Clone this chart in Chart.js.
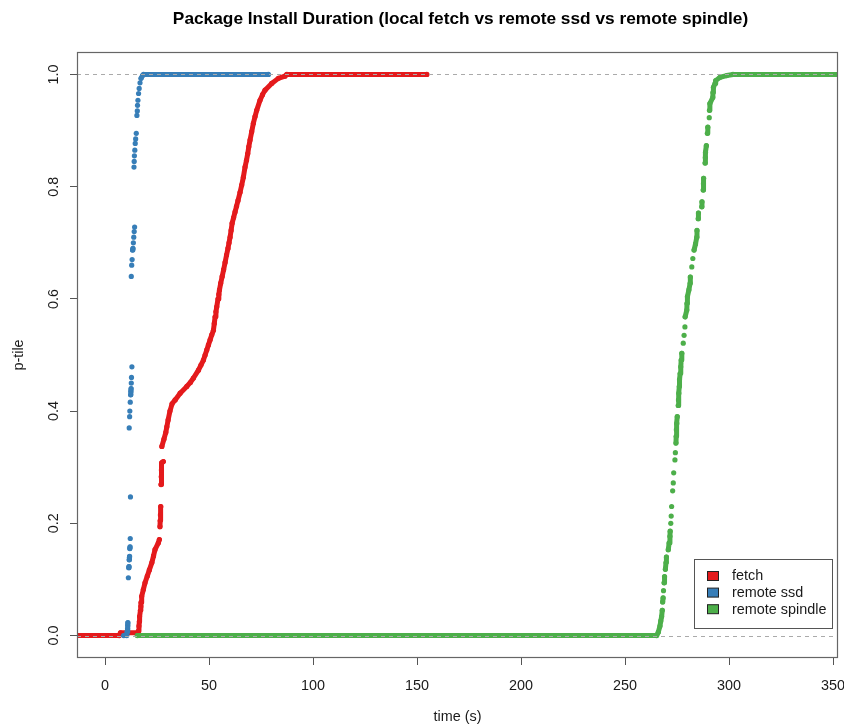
<!DOCTYPE html>
<html>
<head>
<meta charset="utf-8">
<script src="https://cdn.jsdelivr.net/npm/chart.js@4.4.1/dist/chart.umd.min.js"></script>
<style>
  html, body { margin: 0; padding: 0; background: #fff; }
  #wrap { width: 844px; height: 727px; }
</style>
</head>
<body>
<div id="wrap"><canvas id="cv"></canvas></div>
<script>
// ---- data ----
var chartTitle = 'Package Install Duration (local fetch vs remote ssd vs remote spindle)';
var xTitle = 'time (s)';
var yTitle = 'p-tile';
var xTicks = [0, 50, 100, 150, 200, 250, 300, 350];
var yTicks = [0, 0.2, 0.4, 0.6, 0.8, 1.0];
var refLines = [0, 1];
var seriesNames = ['fetch', 'remote ssd', 'remote spindle'];

var fetchTime = [-13.6, 6.8, 7.4, 15.8, 16.0, 16.3, 16.5, 16.6, 17.0, 17.2, 17.3, 17.6, 18.4, 19.2,
  20.3, 21.3, 22.5, 23.3, 24.0, 25.6, 26.1, 26.4, 26.5, 26.6, 26.8, 26.9, 27.0, 27.1, 27.3, 28.0,
  27.3, 28.3, 29.2, 29.7, 30.3, 31.2, 32.2, 33.7, 36.1, 39.3, 41.0, 42.5, 44.9, 46.1, 47.3, 48.1,
  48.9, 49.7, 50.5, 51.3, 52.1, 52.5, 52.9, 53.3, 53.7, 54.3, 54.7, 55.0, 55.6, 56.3, 57.0, 57.7,
  58.4, 59.1, 59.6, 60.1, 60.6, 61.1, 61.8, 62.5, 63.2, 63.9, 64.9, 65.7, 66.5, 67.3, 68.0, 68.6,
  69.1, 69.7, 70.5, 71.3, 72.1, 72.9, 74.5, 75.7, 76.9, 80.1, 83.3, 86.5, 87.4, 154.7];
var fetchPtile = [0, 0, 0.005, 0.005, 0.008, 0.017, 0.025, 0.034, 0.045, 0.052, 0.059, 0.07, 0.082, 0.094,
  0.106, 0.117, 0.13, 0.142, 0.153, 0.165, 0.171, 0.194, 0.205, 0.215, 0.23, 0.269, 0.283, 0.295, 0.308, 0.31,
  0.337, 0.35, 0.362, 0.372, 0.384, 0.40, 0.413, 0.42, 0.432, 0.444, 0.451, 0.459, 0.473, 0.482, 0.491, 0.50,
  0.509, 0.518, 0.527, 0.536, 0.544, 0.556, 0.568, 0.577, 0.586, 0.60, 0.608, 0.616, 0.628, 0.64, 0.652, 0.665,
  0.678, 0.69, 0.70, 0.71, 0.722, 0.735, 0.745, 0.755, 0.765, 0.775, 0.79, 0.803, 0.817, 0.835, 0.847, 0.859,
  0.871, 0.883, 0.898, 0.913, 0.925, 0.936, 0.954, 0.964, 0.972, 0.984, 0.993, 0.997, 1.0, 1.0];

var ssdTime = [9.0, 10.4, 10.6, 10.8, 10.9, 11.0, 11.2, 11.4, 11.5, 11.6, 11.7, 11.8, 11.9, 12.0, 12.1,
  12.2, 11.6, 11.8, 11.9, 12.1, 12.3, 12.4, 12.5, 12.6, 12.7, 12.9, 12.6, 12.8, 13.0, 13.2, 13.4, 13.6,
  13.8, 14.0, 14.2, 13.9, 14.0, 14.1, 14.3, 14.5, 14.7, 15.0, 15.3, 15.5, 15.6, 15.8, 16.1, 16.4, 16.8,
  17.3, 18.0, 18.5, 78.5];
var ssdPtile = [0, 0, 0.007, 0.012, 0.018, 0.023, 0.103, 0.121, 0.123, 0.135, 0.139, 0.141, 0.155, 0.158, 0.173,
  0.247, 0.37, 0.39, 0.40, 0.416, 0.429, 0.435, 0.44, 0.45, 0.46, 0.479, 0.64, 0.66, 0.67, 0.687, 0.69, 0.70,
  0.71, 0.72, 0.728, 0.835, 0.845, 0.855, 0.865, 0.877, 0.885, 0.895, 0.927, 0.935, 0.945, 0.954, 0.966, 0.975, 0.985,
  0.993, 0.998, 1.0, 1.0];

var spindleTime = [15.5, 265.2, 266.0, 266.8, 267.2, 267.6, 267.9, 268.1, 268.3, 268.5, 268.8, 269.0,
  269.4, 269.7, 269.9, 270.8, 271.2, 271.6, 271.7, 272.0, 272.2, 272.4, 272.9, 273.2, 273.4, 274.0,
  274.2, 274.5, 274.6, 274.7, 274.9, 275.1, 275.6, 275.7, 275.9, 276.1, 276.2, 276.5, 276.8, 277.0,
  277.3, 278.0, 278.4, 278.8, 278.9, 279.7, 279.8, 280.0, 280.7, 281.3, 281.4, 282.1, 282.6, 283.2,
  283.9, 284.5, 284.6, 285.2, 285.3, 286.9, 287.0, 287.6, 287.7, 287.8, 288.5, 288.6, 288.7, 289.1,
  289.6, 289.8, 290.5, 290.6, 290.8, 292.2, 292.3, 292.5, 293.3, 293.6, 295.7, 298.9, 301.9, 353.6];
var spindlePtile = [0, 0, 0.006, 0.017, 0.026, 0.034, 0.045, 0.06, 0.067, 0.080, 0.094, 0.105,
  0.118, 0.13, 0.14, 0.153, 0.165, 0.177, 0.186, 0.2, 0.213, 0.23, 0.258, 0.272, 0.29, 0.313,
  0.326, 0.343, 0.355, 0.367, 0.378, 0.39, 0.41, 0.42, 0.432, 0.444, 0.456, 0.467, 0.479, 0.491,
  0.503, 0.521, 0.535, 0.55, 0.568, 0.58, 0.592, 0.604, 0.616, 0.628, 0.639, 0.657, 0.672, 0.687,
  0.698, 0.71, 0.722, 0.743, 0.753, 0.764, 0.773, 0.794, 0.805, 0.815, 0.842, 0.852, 0.861, 0.873,
  0.895, 0.906, 0.923, 0.936, 0.948, 0.959, 0.968, 0.977, 0.984, 0.989, 0.995, 0.998, 1.0, 1.0];

// ---- styling ----
var RED = '#E41A1C', BLUE = '#377EB8', GREEN = '#4DAF4A';
var FONT = '"Liberation Sans", Arial, Helvetica, sans-serif';
Chart.defaults.font.family = FONT;
Chart.defaults.color = '#1a1a1a';

function toPoints(xs, ys) {
  return xs.map(function (t, i) { return { x: t, y: ys[i] }; });
}

// only join neighbouring points when they sit close together (dense runs) or on a flat run
function gapSegment(color, maxGap) {
  return function (ctx) {
    var dx = ctx.p1.x - ctx.p0.x, dy = ctx.p1.y - ctx.p0.y;
    if (Math.abs(dy) < 1.5) return color;
    return Math.sqrt(dx * dx + dy * dy) <= maxGap ? color : 'rgba(0,0,0,0)';
  };
}

function series(label, xs, ys, color, maxGap, order) {
  return {
    label: label,
    data: toPoints(xs, ys),
    showLine: true,
    borderColor: color,
    backgroundColor: color,
    borderWidth: 5,
    borderCapStyle: 'round',
    borderJoinStyle: 'round',
    pointRadius: 2.6,
    pointBorderWidth: 0,
    pointHoverRadius: 0,
    tension: 0,
    clip: 0,
    order: order,
    segment: { borderColor: gapSegment(color, maxGap) }
  };
}

var decorations = {
  id: 'decorations',
  afterDatasetsDraw: function (chart) {
    var ctx = chart.ctx, a = chart.chartArea, ys = chart.scales.y;
    ctx.save();
    ctx.strokeStyle = '#aaaaaa';
    ctx.lineWidth = 1;
    ctx.setLineDash([4, 4]);
    refLines.forEach(function (v) {
      var py = Math.round(ys.getPixelForValue(v)) + 0.5;
      ctx.beginPath();
      ctx.moveTo(a.left, py);
      ctx.lineTo(a.right, py);
      ctx.stroke();
    });
    ctx.setLineDash([]);
    ctx.strokeStyle = '#666666';
    ctx.lineWidth = 1.2;
    ctx.strokeRect(Math.round(a.left) + 0.5, Math.round(a.top) + 0.5,
      Math.round(a.right - a.left) - 1, Math.round(a.bottom - a.top) - 1);
    ctx.restore();
  },
  afterDraw: function (chart) {
    var ctx = chart.ctx, a = chart.chartArea;
    ctx.save();
    // main title, centred over the plot region
    ctx.fillStyle = '#000';
    ctx.font = 'bold 17.3px ' + FONT;
    ctx.textAlign = 'center';
    ctx.textBaseline = 'middle';
    ctx.fillText(chartTitle, (a.left + a.right) / 2 + 3, 19);

    // legend box in the bottom-right corner
    var colors = [RED, BLUE, GREEN];
    var bw = 138, bh = 69;
    var bx = Math.round(a.right) - 6 - bw, by = Math.round(a.bottom) - 30 - bh;
    ctx.fillStyle = '#fff';
    ctx.fillRect(bx, by, bw, bh);
    ctx.strokeStyle = '#555';
    ctx.lineWidth = 1;
    ctx.strokeRect(bx + 0.5, by + 0.5, bw, bh);
    ctx.font = '14.4px ' + FONT;
    ctx.textAlign = 'left';
    ctx.textBaseline = 'middle';
    seriesNames.forEach(function (name, i) {
      var cy = by + 17 + i * 16.6;
      ctx.fillStyle = colors[i];
      ctx.fillRect(bx + 13.5, cy - 4.5, 11, 9);
      ctx.strokeStyle = '#222';
      ctx.strokeRect(bx + 13.5, cy - 4.5, 11, 9);
      ctx.fillStyle = '#1a1a1a';
      ctx.fillText(name, bx + 38, cy + 0.5);
    });
    ctx.restore();
  }
};

var ctx = document.getElementById('cv').getContext('2d');
var chart = new Chart(ctx, {
  type: 'scatter',
  data: {
    datasets: [
      series(seriesNames[0], fetchTime, fetchPtile, RED, 12, 3),
      series(seriesNames[1], ssdTime, ssdPtile, BLUE, 4.5, 2),
      series(seriesNames[2], spindleTime, spindlePtile, GREEN, 7, 1)
    ]
  },
  options: {
    responsive: true,
    maintainAspectRatio: false,
    animation: false,
    devicePixelRatio: 1,
    events: [],
    layout: { padding: { top: 52, right: 6, bottom: 0, left: 0 } },
    plugins: {
      legend: { display: false },
      tooltip: { enabled: false },
      title: { display: false }
    },
    scales: {
      x: {
        type: 'linear',
        min: -13.5,
        max: 352.4,
        afterBuildTicks: function (s) { s.ticks = xTicks.map(function (v) { return { value: v }; }); },
        afterFit: function (s) { s.height = 69; s.paddingLeft = 0; s.paddingRight = 0; },
        border: { display: false },
        grid: { drawOnChartArea: false, drawTicks: true, tickLength: 7, color: '#555', lineWidth: 1 },
        ticks: { font: { size: 14.4 }, color: '#1a1a1a', padding: 12, maxRotation: 0, autoSkip: false },
        title: { display: true, text: xTitle, font: { size: 14.4 }, color: '#1a1a1a', padding: { top: 0, bottom: 1 } }
      },
      y: {
        type: 'linear',
        min: -0.04,
        max: 1.04,
        afterBuildTicks: function (s) { s.ticks = yTicks.map(function (v) { return { value: v }; }); },
        afterFit: function (s) { s.width = 77; s.paddingTop = 0; s.paddingBottom = 0; },
        border: { display: false },
        grid: { drawOnChartArea: false, drawTicks: true, tickLength: 7, color: '#555', lineWidth: 1 },
        ticks: {
          font: { size: 14.4 }, color: '#1a1a1a', padding: 6,
          minRotation: 90, maxRotation: 90, crossAlign: 'center', autoSkip: false,
          callback: function (v) { return Number(v).toFixed(1); }
        },
        title: { display: true, text: yTitle, font: { size: 14.4 }, color: '#1a1a1a', padding: { top: 10, bottom: 0 } }
      }
    }
  },
  plugins: [decorations]
});
</script>
</body>
</html>
